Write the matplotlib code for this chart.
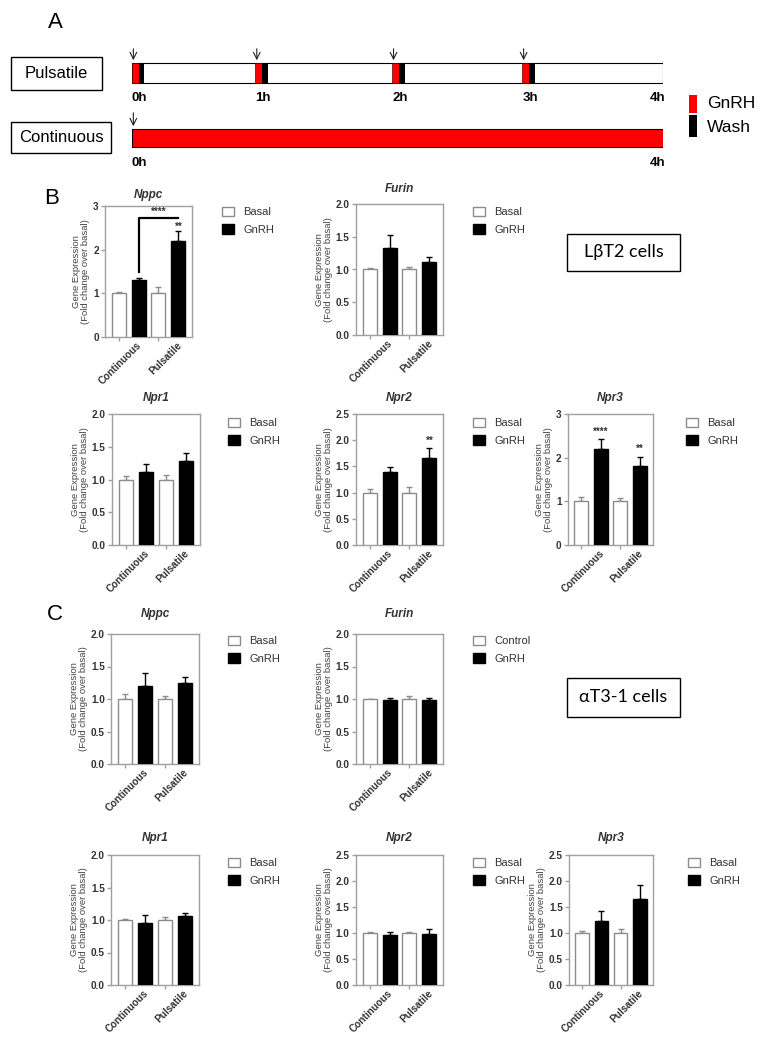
import matplotlib
matplotlib.use('Agg')
import matplotlib.pyplot as plt
from matplotlib.patches import Rectangle
import numpy as np

plt.rcParams['font.family'] = ['Liberation Sans', 'DejaVu Sans']

# ---------------- data ----------------
conditions = ['Continuous', 'Pulsatile']
treatments = ['Basal', 'GnRH']
treatments_ctrl = ['Control', 'GnRH']

# Panel A schematic (hours)
pulse_times = [0.0, 0.93, 1.96, 2.94]
pulse_labels = ['0h', '1h', '2h', '3h']
total_hours = 4
gnrh_pulse_h = 0.052
wash_h = 0.042

# Panel B (LbetaT2) : order = [Basal-Cont, GnRH-Cont, Basal-Puls, GnRH-Puls]
b_nppc_mean = [1.00, 1.30, 1.00, 2.19]
b_nppc_err = [0.02, 0.05, 0.15, 0.23]
b_furin_mean = [1.00, 1.33, 1.00, 1.11]
b_furin_err = [0.02, 0.19, 0.04, 0.08]
b_npr1_mean = [1.00, 1.12, 1.00, 1.28]
b_npr1_err = [0.05, 0.12, 0.07, 0.12]
b_npr2_mean = [1.00, 1.40, 1.00, 1.66]
b_npr2_err = [0.07, 0.09, 0.10, 0.19]
b_npr3_mean = [1.00, 2.20, 1.00, 1.82]
b_npr3_err = [0.11, 0.22, 0.08, 0.20]

# Panel C (alphaT3-1)
c_nppc_mean = [1.00, 1.20, 1.00, 1.25]
c_nppc_err = [0.07, 0.20, 0.04, 0.09]
c_furin_mean = [1.00, 0.985, 1.005, 0.99]
c_furin_err = [0.005, 0.035, 0.035, 0.02]
c_npr1_mean = [1.00, 0.96, 1.00, 1.06]
c_npr1_err = [0.01, 0.11, 0.05, 0.05]
c_npr2_mean = [1.00, 0.97, 1.00, 0.99]
c_npr2_err = [0.02, 0.05, 0.01, 0.08]
c_npr3_mean = [1.00, 1.24, 1.00, 1.66]
c_npr3_err = [0.03, 0.18, 0.08, 0.27]

# significance marks: (bar position, y, text)
b_nppc_stars = [(3, 2.40, '**'), (2.0, 2.76, '****')]
b_nppc_bracket = [(1, 1.49), (1, 2.72), (3, 2.72)]
b_npr2_stars = [(3, 1.90, '**')]
b_npr3_stars = [(1, 2.48, '****'), (3, 2.08, '**')]

# ---------------- figure ----------------
W, H = 760, 1037
fig = plt.figure(figsize=(W / 100, H / 100), dpi=100)


def px_axes(x0, y0, x1, y1, **kw):
    return fig.add_axes([x0 / W, 1 - y1 / H, (x1 - x0) / W, (y1 - y0) / H], **kw)


bg = px_axes(0, 0, W, H)
bg.set_xlim(0, W)
bg.set_ylim(H, 0)
bg.axis('off')

# ---- Panel A ----
bg.text(55, 22, 'A', fontsize=16, ha='center', va='center')
for (x0, y0, w, h, lab) in [(11, 57, 91, 33, 'Pulsatile'), (11, 122, 100, 31, 'Continuous')]:
    bg.add_patch(Rectangle((x0, y0), w, h, fc='white', ec='black', lw=1))
    bg.text(x0 + w / 2, y0 + h / 2, lab, fontsize=12, ha='center', va='center')

bg.add_patch(Rectangle((689, 95), 8, 18, fc='#ff0000', ec='none'))
bg.add_patch(Rectangle((689, 115), 8, 22, fc='black', ec='none'))
bg.text(707, 104, 'GnRH', fontsize=12.5, va='center')
bg.text(707, 127, 'Wash', fontsize=12.5, va='center')

tl = px_axes(132, 0, 663, 175)
tl.set_xlim(0, total_hours)
tl.set_ylim(175, 0)
tl.axis('off')
narrow = ['Liberation Sans Narrow', 'Liberation Sans', 'DejaVu Sans']
tl.add_patch(Rectangle((0, 63), total_hours, 20, fc='white', ec='black', lw=0.8))
for t, lab in zip(pulse_times, pulse_labels):
    tl.add_patch(Rectangle((t, 63), gnrh_pulse_h, 20, fc='#ff0000', ec='#600000', lw=0.5))
    tl.add_patch(Rectangle((t + gnrh_pulse_h, 63), wash_h, 20, fc='black', ec='none'))
    tl.annotate('', xy=(t + 0.01, 63), xytext=(t + 0.01, 46),
                arrowprops=dict(arrowstyle='->', lw=0.8, color='#222222', mutation_scale=12))
    tl.text(t, 98, lab, ha='left', va='center', fontsize=9.5, fontweight='bold', family=narrow)
tl.text(total_hours + 0.02, 98, '4h', ha='right', va='center', fontsize=9.5, fontweight='bold', family=narrow)

tl.add_patch(Rectangle((0, 129), total_hours, 18, fc='#ff0000', ec='black', lw=0.8))
tl.annotate('', xy=(0.01, 129), xytext=(0.01, 110),
            arrowprops=dict(arrowstyle='->', lw=0.8, color='#222222', mutation_scale=12))
tl.text(0, 163, '0h', ha='left', va='center', fontsize=9.5, fontweight='bold', family=narrow)
tl.text(total_hours + 0.02, 163, '4h', ha='right', va='center', fontsize=9.5, fontweight='bold', family=narrow)

# ---- Bar panels ----
SPINE = '#a0a0a0'
TXT = '#333333'


def bar_panel(rect, title, means, errs, ymax, yticks, yfmt, leg_labels, leg_xy,
              stars=None, bracket=None, tpad=9):
    ax = px_axes(*rect)
    xb = np.array([0, 2])
    xg = np.array([1, 3])
    mb = [means[0], means[2]]
    mg = [means[1], means[3]]
    eb = [errs[0], errs[2]]
    eg = [errs[1], errs[3]]
    hb = ax.bar(xb, mb, width=0.7, color='white', edgecolor='#8c8c8c', lw=1, zorder=3)
    hg = ax.bar(xg, mg, width=0.7, color='black', edgecolor='black', lw=1, zorder=3)
    ax.errorbar(xb, mb, yerr=[[0, 0], eb], fmt='none', ecolor='#8c8c8c', elinewidth=1,
                capsize=2.5, capthick=1, zorder=2)
    ax.errorbar(xg, mg, yerr=[[0, 0], eg], fmt='none', ecolor='black', elinewidth=1,
                capsize=2.5, capthick=1, zorder=2)
    ax.set_xlim(-0.68, 3.68)
    ax.set_ylim(0, ymax)
    ax.set_yticks(yticks)
    ax.set_yticklabels([yfmt.format(v) for v in yticks], fontsize=7.2, fontweight='bold', color=TXT)
    ax.set_xticks([0.9, 2.9])
    ax.set_xticklabels(conditions, fontsize=7.2, fontweight='bold', color=TXT)
    for lab in ax.get_xticklabels():
        lab.set_rotation(45)
        lab.set_ha('right')
        lab.set_va('top')
        lab.set_rotation_mode('anchor')
    ax.set_xticks([0, 2], minor=True)
    ax.tick_params(axis='x', which='major', length=0, pad=2.5)
    ax.tick_params(axis='x', which='minor', length=3, color=SPINE, width=1)
    ax.tick_params(axis='y', length=3, color=SPINE, width=1, pad=1.5)
    for s in ax.spines.values():
        s.set_color(SPINE)
        s.set_linewidth(1)
    ax.set_ylabel('Gene Expression\n(Fold change over basal)', fontsize=6.8, color='#444444',
                  linespacing=1.0, labelpad=2)
    ax.set_title(title, fontsize=8.5, fontweight='bold', style='italic', color=TXT, pad=tpad)
    if bracket is not None:
        bx, by = zip(*bracket)
        ax.plot(bx, by, color='black', lw=1.6, clip_on=False, zorder=4)
    if stars:
        for (sx, sy, st) in stars:
            ax.text(sx, sy, st, ha='center', va='bottom', fontsize=7, fontweight='bold', color=TXT)
    ax.legend([hb, hg], leg_labels, loc='upper left',
              bbox_to_anchor=(leg_xy[0] / W, 1 - leg_xy[1] / H), bbox_transform=fig.transFigure,
              frameon=False, fontsize=8, handlelength=1.1, handleheight=0.9,
              handletextpad=0.8, labelspacing=0.62, borderpad=0, borderaxespad=0,
              labelcolor=TXT)
    return ax


# Panel B
bg.text(52, 198, 'B', fontsize=16, ha='center', va='center')
bar_panel((105, 206, 192, 337), 'Nppc', b_nppc_mean, b_nppc_err, 3, [0, 1, 2, 3], '{:.0f}',
          treatments, (222, 207), stars=b_nppc_stars, bracket=b_nppc_bracket, tpad=6)
bar_panel((356, 204, 443, 335), 'Furin', b_furin_mean, b_furin_err, 2.0, [0, 0.5, 1.0, 1.5, 2.0],
          '{:.1f}', treatments, (473, 207))
bar_panel((112, 414, 200, 545), 'Npr1', b_npr1_mean, b_npr1_err, 2.0, [0, 0.5, 1.0, 1.5, 2.0],
          '{:.1f}', treatments, (228, 418))
bar_panel((356, 414, 443, 545), 'Npr2', b_npr2_mean, b_npr2_err, 2.5,
          [0, 0.5, 1.0, 1.5, 2.0, 2.5], '{:.1f}', treatments, (473, 418), stars=b_npr2_stars)
bar_panel((568, 414, 653, 545), 'Npr3', b_npr3_mean, b_npr3_err, 3, [0, 1, 2, 3], '{:.0f}',
          treatments, (686, 418), stars=b_npr3_stars)
bg.add_patch(Rectangle((567, 234), 113, 37, fc='white', ec='black', lw=1))
bg.text(623.5, 252.5, 'LβT2 cells', fontsize=13, ha='center', va='center',
        family=['Lato', 'DejaVu Sans'])

# Panel C
bg.text(55, 614, 'C', fontsize=16, ha='center', va='center')
bar_panel((111, 634, 199, 764), 'Nppc', c_nppc_mean, c_nppc_err, 2.0, [0, 0.5, 1.0, 1.5, 2.0],
          '{:.1f}', treatments, (228, 636), tpad=12)
bar_panel((356, 634, 443, 764), 'Furin', c_furin_mean, c_furin_err, 2.0, [0, 0.5, 1.0, 1.5, 2.0],
          '{:.1f}', treatments_ctrl, (473, 636), tpad=12)
bar_panel((111, 855, 199, 985), 'Npr1', c_npr1_mean, c_npr1_err, 2.0, [0, 0.5, 1.0, 1.5, 2.0],
          '{:.1f}', treatments, (228, 858), tpad=10)
bar_panel((356, 855, 443, 985), 'Npr2', c_npr2_mean, c_npr2_err, 2.5,
          [0, 0.5, 1.0, 1.5, 2.0, 2.5], '{:.1f}', treatments, (473, 858), tpad=10)
bar_panel((569, 855, 653, 985), 'Npr3', c_npr3_mean, c_npr3_err, 2.5,
          [0, 0.5, 1.0, 1.5, 2.0, 2.5], '{:.1f}', treatments, (688, 858), tpad=10)
bg.add_patch(Rectangle((567, 678), 113, 39, fc='white', ec='black', lw=1))
bg.text(623.5, 697.5, 'αT3-1 cells', fontsize=13, ha='center', va='center',
        family=['Lato', 'DejaVu Sans'])

fig.savefig('out.png', dpi=100)
